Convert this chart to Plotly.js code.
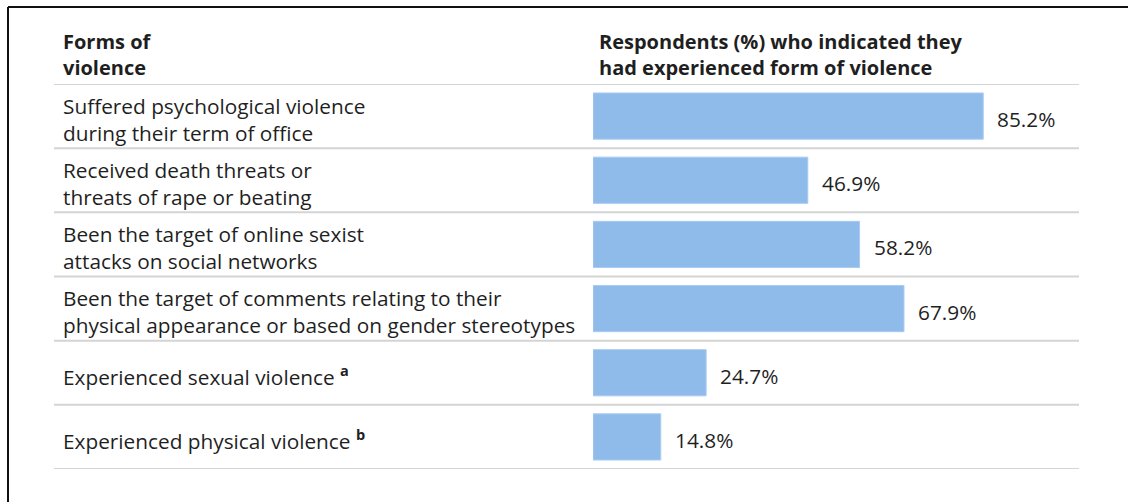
<!DOCTYPE html>
<html>
<head>
<meta charset="utf-8">
<script src="https://cdn.plot.ly/plotly-3.0.1.min.js"></script>
<style>html,body{margin:0;padding:0;background:#fff;}#chart{width:1128px;height:502px;}</style>
</head>
<body>
<div id="chart"></div>
<script>
const categories = [
  "Suffered psychological violence<br>during their term of office",
  "Received death threats or<br>threats of rape or beating",
  "Been the target of online sexist<br>attacks on social networks",
  "Been the target of comments relating to their<br>physical appearance or based on gender stereotypes",
  "Experienced sexual violence <sup><b>a</b></sup>",
  "Experienced physical violence <sup><b>b</b></sup>"
];
const values = [85.2, 46.9, 58.2, 67.9, 24.7, 14.8];
const headerLeft = "<b>Forms of<br>violence</b>";
const headerRight = "<b>Respondents (%) who indicated they<br>had experienced form of violence</b>";

const W = 1128, H = 502;
const FONT = "'Open Sans', 'Noto Sans', sans-serif";
const TXT = "#1f1f1f";
const px = v => v / W;
const py = v => 1 - v / H;

const ids = categories.map((c, i) => i);

const trace = {
  type: "bar",
  orientation: "h",
  y: ids,
  x: values,
  marker: {color: "#8fbbeb", line: {color: "#a8cbf1", width: 1}},
  hoverinfo: "skip"
};

const annotations = [];
annotations.push({xref: "paper", yref: "paper", x: px(61), y: py(54), xanchor: "left", yanchor: "middle",
  text: headerLeft, showarrow: false, align: "left", font: {family: FONT, size: 20, color: TXT}});
annotations.push({xref: "paper", yref: "paper", x: px(597), y: py(54), xanchor: "left", yanchor: "middle",
  text: headerRight, showarrow: false, align: "left", font: {family: FONT, size: 20, color: TXT}});
categories.forEach((c, i) => {
  annotations.push({xref: "paper", yref: "y", x: px(61), y: i, xanchor: "left", yanchor: "middle",
    text: c, showarrow: false, align: "left", yshift: -3, font: {family: FONT, size: 20.8, color: TXT}});
});
values.forEach((v, i) => {
  annotations.push({xref: "x", yref: "y", x: v, y: i, xanchor: "left", yanchor: "middle", xshift: 12, yshift: -3,
    text: v.toFixed(1) + "%", showarrow: false, font: {family: FONT, size: 20.8, color: TXT}});
});

const shapes = [];
for (let k = 0; k <= categories.length; k++) {
  shapes.push({type: "line", xref: "paper", yref: "y", x0: px(54), x1: px(1079), y0: k - 0.5, y1: k - 0.5,
    line: {color: "#d4d4d4", width: 2}});
}
// frame
shapes.push({type: "line", xref: "paper", yref: "paper", x0: px(8), x1: 1, y0: py(7), y1: py(7), line: {color: "#111", width: 2}});
shapes.push({type: "line", xref: "paper", yref: "paper", x0: px(8), x1: px(8), y0: py(7), y1: 0, line: {color: "#111", width: 2}});

const layout = {
  width: W, height: H,
  margin: {l: 0, r: 0, t: 0, b: 0},
  paper_bgcolor: "#fff", plot_bgcolor: "rgba(0,0,0,0)",
  showlegend: false,
  bargap: 0.28,
  xaxis: {domain: [px(593), px(593 + 458)], range: [0, 100], visible: false, fixedrange: true},
  yaxis: {domain: [py(469), py(84)], range: [5.5, -0.5], visible: false, fixedrange: true},
  annotations: annotations,
  shapes: shapes
};

Plotly.newPlot("chart", [trace], layout, {displayModeBar: false, staticPlot: true});
</script>
</body>
</html>
